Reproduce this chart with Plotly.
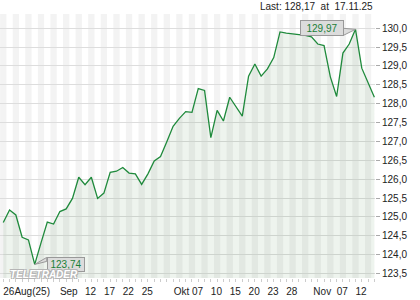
import plotly.graph_objects as go

# ---- data ----
day_index = list(range(60))
values = [124.85, 125.18, 125.05, 124.46, 124.39, 123.74, 124.31, 124.86, 124.81, 125.14,
          125.21, 125.49, 126.05, 125.85, 126.05, 125.49, 125.63, 126.18, 126.21, 126.31,
          126.16, 126.14, 125.86, 126.14, 126.48, 126.60, 126.99, 127.40, 127.61, 127.79,
          127.77, 128.40, 128.35, 127.10, 127.82, 127.54, 128.17, 127.93, 127.67, 128.73,
          129.05, 128.73, 128.92, 129.22, 129.90, 129.87, 129.85, 129.84, 129.81, 129.77,
          129.58, 129.54, 128.71, 128.19, 129.34, 129.58, 129.97, 128.94, 128.55, 128.17]
tick_pos = [0, 9.0, 13, 16, 19, 22, 27.1, 30, 33, 36, 39, 42, 45, 49.3, 53, 56]
tick_text = ["26Aug(25)", "Sep", "12", "17", "22", "25", "Okt", "07", "10", "15",
             "20", "23", "28", "Nov", "07", "12"]
last_text = "Last: 128,17\u00a0 at\u00a0 17.11.25"

FONT = "Liberation Sans, Arial, sans-serif"
LINE = "#1f8a3c"

fig = go.Figure()
fig.add_trace(go.Scatter(
    x=day_index, y=values, mode="lines",
    line=dict(color=LINE, width=1.3),
    fill="tozeroy", fillcolor="rgba(30,110,30,0.075)",
    hoverinfo="skip"))

# alternating day stripes
for i in day_index:
    if i % 2 == 0:
        fig.add_vrect(x0=i - 0.5, x1=i + 0.5, fillcolor="#f3f3f3",
                      line_width=0, layer="below")

# pixel scale helpers (plot 375 x 264 px)
xr = [-0.52, 59.1]
yr = [123.38, 130.376]
px_x = 375 / (xr[1] - xr[0])
px_y = 264 / (yr[1] - yr[0])

imax = values.index(max(values))
imin = values.index(min(values))
vmax, vmin = values[imax], values[imin]

# callout wedges
fig.add_shape(type="path", layer="above",
              path=(f"M {imax - 12/px_x},{vmax + 1/px_y} L {imax},{vmax} "
                    f"L {imax - 12/px_x},{vmax - 6/px_y} Z"),
              fillcolor="#dcdcdc", line=dict(color="#999999", width=1))
fig.add_shape(type="path", layer="above",
              path=(f"M {imin + 12/px_x},{vmin + 7/px_y} L {imin},{vmin} "
                    f"L {imin + 12/px_x},{vmin + 3/px_y} Z"),
              fillcolor="#dcdcdc", line=dict(color="#999999", width=1))

fig.add_annotation(x=imax, y=vmax, text=f"{vmax:.2f}".replace(".", ","),
                   showarrow=False, xshift=-34, yshift=1,
                   bgcolor="#dcdcdc", bordercolor="#999999", borderwidth=1,
                   borderpad=1, width=40, height=12,
                   font=dict(family=FONT, size=10, color="#1a7f37"))
fig.add_annotation(x=imin, y=vmin, text=f"{vmin:.2f}".replace(".", ","),
                   showarrow=False, xshift=31, yshift=0,
                   bgcolor="#dcdcdc", bordercolor="#999999", borderwidth=1,
                   borderpad=1, width=34, height=11,
                   font=dict(family=FONT, size=10, color="#1a7f37"))

# header text
fig.add_annotation(xref="paper", yref="paper", x=1, y=1, xanchor="right",
                   yanchor="bottom", text=last_text, showarrow=False, yshift=0,
                   font=dict(family=FONT, size=10, color="#222222"))

# watermark
fig.add_annotation(xref="paper", yref="paper", x=0.022, y=0.015, xanchor="left",
                   yanchor="middle", text="<b><i>TELETRADER</i></b>", showarrow=False,
                   font=dict(family=FONT, size=10, color="#ffffff",
                             shadow="-1px -1px 0 #b5b5b5, 1px -1px 0 #b5b5b5, "
                                    "-1px 1px 0 #b5b5b5, 1px 1px 0 #b5b5b5"))

fig.update_layout(
    width=420, height=300,
    margin=dict(l=0, r=45, t=14, b=22),
    paper_bgcolor="white", plot_bgcolor="white",
    showlegend=False, separators=",.",
    font=dict(family=FONT, size=10, color="#222222"),
    xaxis=dict(range=xr, tickmode="array", tickvals=tick_pos, ticktext=tick_text,
               ticks="", showgrid=False, zeroline=False, showline=False,
               ticklabelposition="outside right", ticklabelstandoff=6, tickangle=0,
               tickfont=dict(family=FONT, size=10, color="#222222"),
               minor=dict(ticks="outside", ticklen=3, tickcolor="#cccccc",
                          dtick=1, tick0=0, showgrid=False)),
    yaxis=dict(range=yr, side="right", dtick=0.5, tick0=123.5, tickformat=".1f",
               showgrid=True, gridcolor="#dddddd", gridwidth=1, zeroline=False,
               ticks="outside", ticklen=4, tickcolor="#aaaaaa", showline=False,
               tickfont=dict(family=FONT, size=10, color="#222222")),
)

fig.write_html("out.html")
